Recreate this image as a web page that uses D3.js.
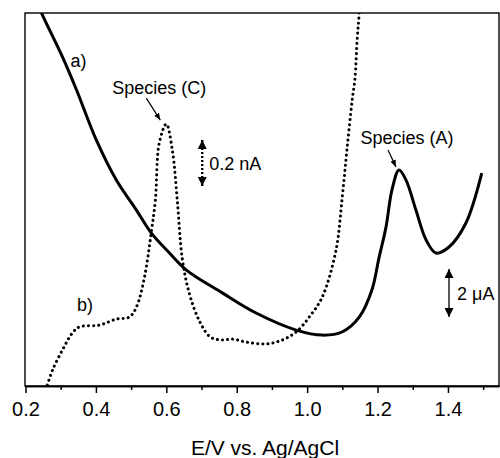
<!DOCTYPE html>
<html>
<head>
<meta charset="utf-8">
<script src="https://cdn.jsdelivr.net/npm/d3@7"></script>
<style>
  body { margin: 0; background: #fff; }
  svg text { font-family: "Liberation Sans", Arial, sans-serif; fill: #000; }
</style>
</head>
<body>
<svg id="chart" width="500" height="458"></svg>
<script>
// potential (V vs Ag/AgCl) and current
// a) solid trace, current in uA
const potentialA = [0.240, 0.248, 0.305, 0.345, 0.401, 0.458, 0.515, 0.557, 0.609, 0.657, 0.759, 0.855, 0.969, 1.043, 1.099, 1.148, 1.184, 1.204, 1.224, 1.241, 1.261, 1.281, 1.309, 1.338, 1.366, 1.403, 1.451, 1.496]
const currentA = [15.75, 15.46, 13.71, 12.33, 10.25, 8.58, 7.33, 6.38, 5.54, 4.83, 3.88, 3.04, 2.33, 2.12, 2.25, 2.87, 4.0, 5.33, 6.62, 8.17, 9.0, 8.58, 7.33, 6.08, 5.54, 5.79, 6.79, 8.87]

// b) dotted trace, current in nA
const potentialB = [0.262, 0.277, 0.305, 0.333, 0.353, 0.410, 0.458, 0.495, 0.515, 0.538, 0.557, 0.569, 0.580, 0.600, 0.617, 0.631, 0.645, 0.665, 0.694, 0.725, 0.756, 0.787, 0.827, 0.884, 0.929, 0.969, 1.006, 1.043, 1.082, 1.099, 1.113, 1.128, 1.136, 1.142, 1.148, 1.152]
const currentB = [0.004, 0.070, 0.157, 0.230, 0.257, 0.265, 0.291, 0.300, 0.343, 0.474, 0.665, 0.809, 1.057, 1.139, 1.026, 0.809, 0.557, 0.404, 0.283, 0.213, 0.200, 0.204, 0.191, 0.183, 0.200, 0.235, 0.300, 0.387, 0.591, 0.809, 1.026, 1.243, 1.339, 1.504, 1.622, 1.75]

const xTicks = [0.2, 0.4, 0.6, 0.8, 1.0, 1.2, 1.4]
const xMinorTicks = [0.3, 0.5, 0.7, 0.9, 1.1, 1.3, 1.5]

const margin = { left: 25, right: 1, top: 13, bottom: 72 }
const width = 500
const height = 458

const svg = d3.select('#chart')

const x = d3.scaleLinear()
  .domain([0.2, 1.545])
  .range([margin.left + 0.5, width - margin.right])
const yA = d3.scaleLinear() // uA
  .domain([0, 15.54])
  .range([height - margin.bottom, margin.top])
const yB = d3.scaleLinear() // nA
  .domain([0, 1.622])
  .range([height - margin.bottom, margin.top])

svg.append('clipPath').attr('id', 'plotClip')
  .append('rect')
  .attr('x', margin.left)
  .attr('y', margin.top)
  .attr('width', width - margin.left - margin.right)
  .attr('height', height - margin.top - margin.bottom)

// frame
svg.append('rect')
  .attr('x', margin.left)
  .attr('y', margin.top)
  .attr('width', width - margin.left - margin.right)
  .attr('height', height - margin.top - margin.bottom)
  .attr('fill', 'none')
  .attr('stroke', '#000')
  .attr('stroke-width', 1.4)

// x axis
const axisG = svg.append('g')
  .attr('transform', `translate(0,${height - margin.bottom})`)
axisG.call(d3.axisBottom(x).tickValues(xTicks).tickSize(7).tickSizeOuter(0).tickPadding(9).tickFormat(d3.format('.1f')))
axisG.append('g')
  .call(d3.axisBottom(x).tickValues(xMinorTicks).tickSize(4).tickSizeOuter(0).tickFormat(''))
axisG.selectAll('.domain').attr('stroke-width', 1.6)
axisG.selectAll('.tick line').attr('stroke-width', 1.5)
axisG.selectAll('.tick text')
  .attr('font-size', 20)
  .style('font-family', '"Liberation Sans", Arial, sans-serif')

svg.append('text')
  .attr('x', 265)
  .attr('y', 455)
  .attr('text-anchor', 'middle')
  .attr('font-size', 21)
  .text('E/V vs. Ag/AgCl')

// traces
const plot = svg.append('g').attr('clip-path', 'url(#plotClip)')

const lineA = d3.line()
  .x(d => x(d[0]))
  .y(d => yA(d[1]))
  .curve(d3.curveCatmullRom.alpha(0.5))
const lineB = d3.line()
  .x(d => x(d[0]))
  .y(d => yB(d[1]))
  .curve(d3.curveCatmullRom.alpha(0.5))

plot.append('path')
  .datum(d3.zip(potentialA, currentA))
  .attr('d', lineA)
  .attr('fill', 'none')
  .attr('stroke', '#000')
  .attr('stroke-width', 3)

plot.append('path')
  .datum(d3.zip(potentialB, currentB))
  .attr('d', lineB)
  .attr('fill', 'none')
  .attr('stroke', '#000')
  .attr('stroke-width', 3)
  .attr('stroke-linecap', 'round')
  .attr('stroke-dasharray', '0.1 5')

// arrowhead markers
const defs = svg.append('defs')
defs.append('marker')
  .attr('id', 'headSmall')
  .attr('viewBox', '0 0 10 10')
  .attr('refX', 10).attr('refY', 5)
  .attr('markerWidth', 7).attr('markerHeight', 7)
  .attr('markerUnits', 'userSpaceOnUse')
  .attr('orient', 'auto')
  .append('path').attr('d', 'M0,1 L10,5 L0,9 Z').attr('fill', '#000')
defs.append('marker')
  .attr('id', 'headBig')
  .attr('viewBox', '0 0 10 10')
  .attr('refX', 10).attr('refY', 5)
  .attr('markerWidth', 10).attr('markerHeight', 9)
  .attr('markerUnits', 'userSpaceOnUse')
  .attr('orient', 'auto-start-reverse')
  .append('path').attr('d', 'M0,0 L10,5 L0,10 Z').attr('fill', '#000')

// labels
svg.append('text').attr('x', x(0.362) - 12).attr('y', yA(13.3)).attr('font-size', 18).text('a)')
svg.append('text').attr('x', x(0.352) - 2).attr('y', yB(0.325)).attr('font-size', 18).text('b)')

// Species (C) at the dotted peak
svg.append('text')
  .attr('x', x(0.6) - 7)
  .attr('y', yB(1.139) - 30)
  .attr('text-anchor', 'middle')
  .attr('font-size', 18)
  .text('Species (C)')
svg.append('line')
  .attr('x1', x(0.6) - 20).attr('y1', yB(1.139) - 26)
  .attr('x2', x(0.6) - 6).attr('y2', yB(1.139) - 4)
  .attr('stroke', '#000').attr('stroke-width', 1.2)
  .attr('marker-end', 'url(#headSmall)')

// Species (A) at the solid peak
svg.append('text')
  .attr('x', x(1.261) + 8)
  .attr('y', yA(9.0) - 26)
  .attr('text-anchor', 'middle')
  .attr('font-size', 18)
  .text('Species (A)')
svg.append('line')
  .attr('x1', x(1.261) - 11).attr('y1', yA(9.0) - 20)
  .attr('x2', x(1.261) - 3).attr('y2', yA(9.0) - 3)
  .attr('stroke', '#000').attr('stroke-width', 1.2)
  .attr('marker-end', 'url(#headSmall)')

// scale bars
const barB = { e: 0.702, top: 1.07, span: 0.2 }
svg.append('line')
  .attr('x1', x(barB.e)).attr('y1', yB(barB.top))
  .attr('x2', x(barB.e)).attr('y2', yB(barB.top - barB.span))
  .attr('stroke', '#000').attr('stroke-width', 2.4)
  .attr('stroke-dasharray', '2 2')
  .attr('marker-start', 'url(#headBig)')
  .attr('marker-end', 'url(#headBig)')
svg.append('text')
  .attr('x', x(barB.e) + 7)
  .attr('y', (yB(barB.top) + yB(barB.top - barB.span)) / 2 + 7)
  .attr('font-size', 18)
  .text('0.2 nA')

const barA = { e: 1.403, top: 4.875, span: 2 }
svg.append('line')
  .attr('x1', x(barA.e)).attr('y1', yA(barA.top))
  .attr('x2', x(barA.e)).attr('y2', yA(barA.top - barA.span))
  .attr('stroke', '#000').attr('stroke-width', 1.3)
  .attr('marker-start', 'url(#headBig)')
  .attr('marker-end', 'url(#headBig)')
svg.append('text')
  .attr('x', x(barA.e) + 8)
  .attr('y', (yA(barA.top) + yA(barA.top - barA.span)) / 2 + 7)
  .attr('font-size', 18)
  .text('2 \u03bcA')
</script>
</body>
</html>
